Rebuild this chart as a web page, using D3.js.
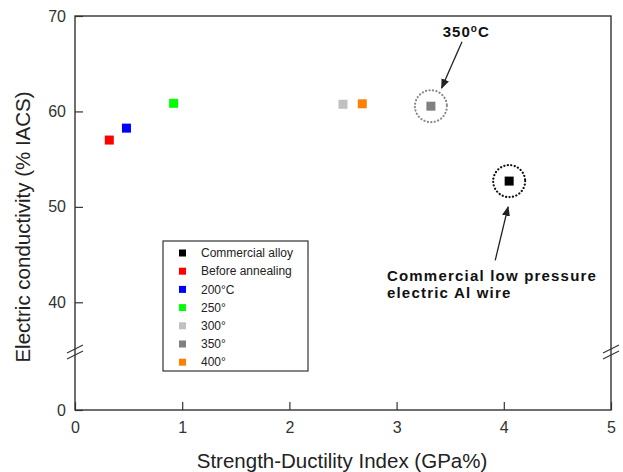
<!DOCTYPE html>
<html>
<head>
<meta charset="utf-8">
<script src="https://cdn.jsdelivr.net/npm/d3@7"></script>
<style>
  body { margin: 0; background: #fff; }
  svg { display: block; font-family: Arial, "Liberation Sans", sans-serif; }
</style>
</head>
<body>
<div id="chart"></div>
<script>
// Leitfähigkeit vs. Strength-Ductility Index
const seriesNames = ["Commercial alloy", "Before annealing", "200°C", "250°", "300°", "350°", "400°"];
const seriesColors = ["#000000", "#ff0000", "#0000ff", "#00ff00", "#c0c0c0", "#808080", "#ff8000"];
const sdiValues = [4.05, 0.32, 0.48, 0.92, 2.50, 3.32, 2.68];
const condValues = [52.7, 57.0, 58.25, 60.85, 60.75, 60.55, 60.8];
const xTicks = [0, 1, 2, 3, 4, 5];
const yTicks = [0, 40, 50, 60, 70];

const W = 623, H = 472;
const margin = { top: 16, right: 12, bottom: 62, left: 75 };
const width = W - margin.left - margin.right;
const height = H - margin.top - margin.bottom;

const svg = d3.select("#chart").append("svg")
    .attr("width", W).attr("height", H);

const defs = svg.append("defs");
defs.append("marker")
    .attr("id", "arrow")
    .attr("viewBox", "0 0 10 10")
    .attr("refX", 9).attr("refY", 5)
    .attr("markerWidth", 10).attr("markerHeight", 10)
    .attr("markerUnits", "userSpaceOnUse")
    .attr("orient", "auto")
    .append("path")
    .attr("d", "M0,1 L10,5 L0,9 Z")
    .attr("fill", "#222");

const g = svg.append("g").attr("transform", `translate(${margin.left},${margin.top})`);

// Skalen (y-Achse mit Bruch bei 35)
const x = d3.scaleLinear().domain([0, 5]).range([0, width]);
const y = d3.scaleLinear().domain([0, 35, 70]).range([height, height - 60, 0]);

// Achsen
const xAxis = g.append("g")
    .attr("transform", `translate(0,${height})`)
    .call(d3.axisBottom(x).tickValues(xTicks).tickFormat(d3.format("d"))
        .tickSizeInner(-8).tickSizeOuter(0).tickPadding(12));

const yAxis = g.append("g")
    .call(d3.axisLeft(y).tickValues(yTicks).tickFormat(d3.format("d"))
        .tickSizeInner(-8).tickSizeOuter(0).tickPadding(9));

[xAxis, yAxis].forEach(a => {
    a.select(".domain").remove();
    a.selectAll("line").attr("stroke", "#333").attr("stroke-width", 1.2);
    a.selectAll("text").attr("fill", "#333").style("font-size", "16px").style("font-family", "Arial, 'Liberation Sans', sans-serif");
});

// Rahmen
g.append("rect")
    .attr("x", 0).attr("y", 0)
    .attr("width", width).attr("height", height)
    .attr("fill", "none")
    .attr("stroke", "#333")
    .attr("stroke-width", 1.4);

// Achsenbruch
const yb = y(35) + 2;
[0, width].forEach(xx => {
    [-3, 3].forEach(off => {
        g.append("line")
            .attr("x1", xx - 8).attr("y1", yb + off + 4)
            .attr("x2", xx + 8).attr("y2", yb + off - 4)
            .attr("stroke", "#333").attr("stroke-width", 1.2);
    });
});

// Achsentitel
svg.append("text")
    .attr("x", margin.left + width / 2 - 1).attr("y", 468)
    .attr("text-anchor", "middle")
    .attr("fill", "#222")
    .style("font-size", "20.5px")
    .text("Strength-Ductility Index (GPa%)");

svg.append("text")
    .attr("transform", `translate(30,${227}) rotate(-90)`)
    .attr("text-anchor", "middle")
    .attr("fill", "#222")
    .style("font-size", "20.5px")
    .text("Electric conductivity (% IACS)");

// Gepunktete Kreise um hervorgehobene Punkte
[5, 0].forEach(i => {
    g.append("circle")
        .attr("cx", x(sdiValues[i])).attr("cy", y(condValues[i]))
        .attr("r", 16)
        .attr("fill", "none")
        .attr("stroke", i === 0 ? "#111" : "#888")
        .attr("stroke-width", 2.2)
        .attr("stroke-linecap", "round")
        .attr("stroke-dasharray", "0.1 3.4");
});

// Datenpunkte
const s = 9;
g.selectAll("rect.pt")
    .data(sdiValues.map((v, i) => ({ x: v, y: condValues[i], c: seriesColors[i] })))
    .join("rect")
    .attr("class", "pt")
    .attr("x", d => x(d.x) - s / 2)
    .attr("y", d => y(d.y) - s / 2)
    .attr("width", s).attr("height", s)
    .attr("fill", d => d.c);

// Annotationen
g.append("line")
    .attr("x1", x(3.61)).attr("y1", y(67.3))
    .attr("x2", x(3.42)).attr("y2", y(62.45))
    .attr("stroke", "#222").attr("stroke-width", 1.3)
    .attr("marker-end", "url(#arrow)");

g.append("line")
    .attr("x1", x(3.92)).attr("y1", y(44.4))
    .attr("x2", x(4.04)).attr("y2", y(50.0))
    .attr("stroke", "#222").attr("stroke-width", 1.3)
    .attr("marker-end", "url(#arrow)");

const t350 = g.append("text")
    .attr("x", x(3.65)).attr("y", y(67.8))
    .attr("text-anchor", "middle")
    .attr("fill", "#111")
    .style("font-size", "15px").style("font-weight", "bold")
    .style("letter-spacing", "1px");
t350.append("tspan").text("350");
t350.append("tspan").attr("dy", -5).style("font-size", "10px").text("o");
t350.append("tspan").attr("dy", 5).text("C");

const tAl = g.append("text")
    .attr("fill", "#111")
    .style("font-size", "15px").style("font-weight", "bold")
    .style("letter-spacing", "1.2px");
tAl.append("tspan").attr("x", x(2.91)).attr("y", y(42.2)).text("Commercial low pressure");
tAl.append("tspan").attr("x", x(2.91)).attr("y", y(40.5)).text("electric Al wire");

// Legende
const legend = g.append("g").attr("transform", `translate(${163 - margin.left},${241 - margin.top})`);
legend.append("rect")
    .attr("width", 145).attr("height", 130)
    .attr("fill", "#fff").attr("stroke", "#333").attr("stroke-width", 1.2);

const rows = legend.selectAll("g.row")
    .data(seriesNames)
    .join("g")
    .attr("class", "row")
    .attr("transform", (d, i) => `translate(0,${12 + i * 18.2})`);

rows.append("rect")
    .attr("x", 16).attr("y", -3.5)
    .attr("width", 7).attr("height", 7)
    .attr("fill", (d, i) => seriesColors[i]);

rows.append("text")
    .attr("x", 38).attr("dy", "0.35em")
    .attr("fill", "#222")
    .style("font-size", "12px")
    .text(d => d);
</script>
</body>
</html>
